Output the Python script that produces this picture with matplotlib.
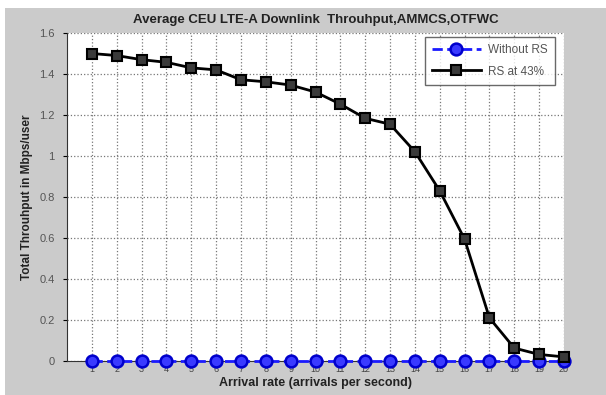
import matplotlib.pyplot as plt
from matplotlib.patches import Rectangle

# arrival rate (arrivals per second)
arrival_rate = list(range(1, 21))

# throughput values (Mbps/user)
without_rs = [0.0] * 20
rs_43 = [1.50, 1.49, 1.47, 1.457, 1.43, 1.42, 1.372, 1.362, 1.346, 1.312,
         1.253, 1.184, 1.155, 1.021, 0.83, 0.594, 0.21, 0.063, 0.032, 0.02]

y_ticks = [0, 0.2, 0.4, 0.6, 0.8, 1.0, 1.2, 1.4, 1.6]
y_tick_labels = ['0', '0.2', '0.4', '0.6', '0.8', '1', '1.2', '1.4', '1.6']

plt.rcParams['font.family'] = ['Liberation Sans', 'DejaVu Sans']

fig = plt.figure(figsize=(6.06, 3.95), dpi=100, facecolor='white')
# gray figure area (the screenshot has a thin white border top/left)
fig.patches.append(Rectangle((5 / 606, 0), 1, 1 - 8 / 395, transform=fig.transFigure,
                             facecolor='#cbcbcb', edgecolor='none', zorder=-10))

ax = fig.add_axes([67 / 606, 1 - 361 / 395, (564 - 67) / 606, (361 - 33) / 395])
ax.set_facecolor('white')

ax.plot(arrival_rate, without_rs, color='#1a1aff', linestyle='--', linewidth=2,
        marker='o', markersize=8.5, markerfacecolor='#3a3aff', markeredgecolor='#0000cc',
        markeredgewidth=1.8, label='Without RS', clip_on=False, zorder=3)
ax.plot(arrival_rate, rs_43, color='black', linestyle='-', linewidth=2,
        marker='s', markersize=7.5, markerfacecolor='#3a3a3a', markeredgecolor='black',
        markeredgewidth=1.5, label='RS at 43%', clip_on=False, zorder=4)

ax.set_xlim(0, 20)
ax.set_ylim(0, 1.6)
ax.set_xticks(arrival_rate)
ax.set_xticklabels([str(v) for v in arrival_rate], fontsize=6.5, color='#444444')
ax.set_yticks(y_ticks)
ax.set_yticklabels(y_tick_labels, fontsize=8, color='#555555')
ax.tick_params(axis='x', length=2, pad=1)
ax.tick_params(axis='y', length=3, pad=6)

ax.grid(True, color='#777777', linestyle=':', linewidth=0.9)
ax.set_axisbelow(True)
for side in ['top', 'right']:
    ax.spines[side].set_visible(False)
ax.spines['left'].set_color('#333333')
ax.spines['bottom'].set_color('#333333')

ax.set_title('Average CEU LTE-A Downlink  Throuhput,AMMCS,OTFWC',
             fontsize=9.5, fontweight='bold', color='#222222', pad=7)
ax.set_xlabel('Arrival rate (arrivals per second)', fontsize=9, fontweight='bold',
              color='#222222', labelpad=2)
ax.set_ylabel('Total Throuhput in Mbps/user', fontsize=8.5, fontweight='bold',
              color='#222222', labelpad=4)

leg = ax.legend(loc='upper right', bbox_to_anchor=((555 - 67) / 497, (361 - 37) / 328),
                fontsize=8.5, frameon=True, fancybox=False, borderaxespad=0,
                borderpad=0.6, handlelength=4.2, labelspacing=0.8, handletextpad=0.6)
leg.get_frame().set_edgecolor('#444444')
leg.get_frame().set_linewidth(1.0)
for t in leg.get_texts():
    t.set_color('#555555')

fig.savefig('out.png', dpi=100, facecolor=fig.get_facecolor())
